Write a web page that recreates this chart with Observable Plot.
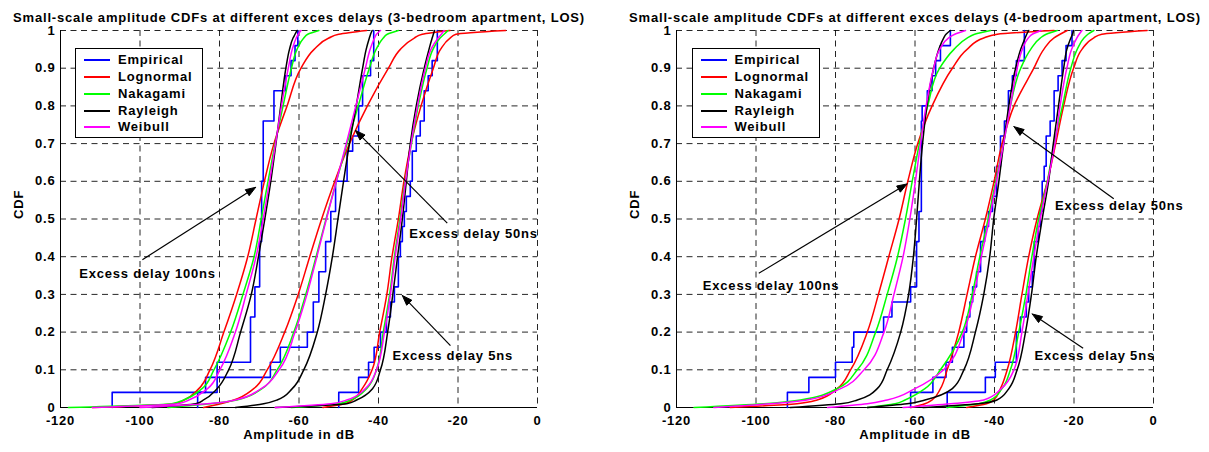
<!DOCTYPE html>
<html><head><meta charset="utf-8">
<script src="https://cdn.jsdelivr.net/npm/d3@7"></script>
<script src="https://cdn.jsdelivr.net/npm/@observablehq/plot@0.6"></script>
<style>
body{margin:0;background:#fff;font-family:"Liberation Sans",Arial,sans-serif;}
#wrap{position:relative;width:1209px;height:452px;display:flex;}
.panel{position:relative;}
.legend{position:absolute;border:1px solid #000;background:#fff;box-sizing:border-box;font-weight:bold;font-size:13px;letter-spacing:0.8px;}
.legend .row{position:absolute;left:0;height:16px;line-height:16px;white-space:nowrap;}
.legend .sw{position:absolute;top:7px;width:26px;height:2px;}
.legend .lab{position:absolute;}
</style></head><body><div id="wrap"></div>
<script>
// ---------- common ----------
const cdfLevels = [0, 0.01, 0.02, 0.05, 0.1, 0.2, 0.3, 0.4, 0.5, 0.6, 0.7, 0.8, 0.9, 0.95, 0.98, 0.99, 1];
const seriesNames = ["Empirical", "Lognormal", "Nakagami", "Rayleigh", "Weibull"];
const seriesColors = ["#0000ff", "#ff0000", "#00ff00", "#000000", "#ff00ff"];
const xTicks = [-120, -100, -80, -60, -40, -20, 0];
const yTicks = [0, 0.1, 0.2, 0.3, 0.4, 0.5, 0.6, 0.7, 0.8, 0.9, 1];
const titles = ["Small-scale amplitude CDFs at different exces delays (3-bedroom apartment, LOS)",
                "Small-scale amplitude CDFs at different exces delays (4-bedroom apartment, LOS)"];
const xLabel = "Amplitude in dB";
const yLabel = "CDF";

// ---------- 3-bedroom (left) : x (dB) at each cdfLevel ----------
const b3_100_logn = [-112, -91.4, -88.9, -85.2, -82.4, -78.9, -75.7, -72.9, -70.8, -68.7, -66.3, -63, -59.5, -56.2, -52.5, -50, -43];
const b3_100_naka = [-118, -92, -89, -84.4, -81.4, -77.2, -74.1, -71.3, -69.5, -67.8, -66, -64, -61.9, -60.5, -58.8, -57.8, -55];
const b3_100_rayl = [-97, -86, -84, -80.6, -77.7, -74.7, -72, -70.2, -68.6, -67.1, -65.8, -64.6, -63.3, -62.4, -61.5, -61, -60.5];
const b3_100_weib = [-112, -90.5, -87.7, -83, -79.9, -76, -73.3, -70.8, -69, -67.4, -65.9, -64.4, -62.7, -61.7, -60.7, -60.2, -59.5];
const b3_100_empX = [-107, -83.5, -80.6, -72.2, -71.1, -69.9, -69.4, -69.0, -66.3, -63.4, -62, -61, -60.3];
const b3_100_empP = [0.04, 0.08, 0.12, 0.24, 0.32, 0.44, 0.6, 0.76, 0.84, 0.88, 0.92, 0.96, 1];

const b3_50_logn = [-84, -79.7, -76.4, -71.4, -68, -63.6, -60.2, -57.3, -54.3, -51, -47.3, -42.8, -37.5, -34.5, -31, -29, -22];
const b3_50_naka = [-93, -82.3, -75.6, -69.3, -65.5, -61.3, -58.3, -55.7, -53.2, -50.6, -47.9, -45.1, -42.3, -40.6, -38.8, -37.8, -35];
const b3_50_rayl = [-76, -68.9, -65.5, -61.7, -58.8, -55.4, -53.3, -51.6, -50.2, -48.8, -47.3, -45.6, -44.0, -43.1, -42.3, -42, -41.6];
const b3_50_weib = [-100, -83, -76, -69.5, -65, -61, -58, -55.5, -53.1, -50.6, -48.1, -45.7, -43.3, -42.1, -41, -40.5, -39.5];
const b3_50_empX = [-85.5, -80.6, -67.2, -64.7, -57.9, -56.4, -55, -53.3, -52, -50.8, -47.9, -46.5, -45, -44, -42, -41.2];
const b3_50_empP = [0.04, 0.08, 0.12, 0.16, 0.2, 0.28, 0.36, 0.44, 0.52, 0.6, 0.68, 0.72, 0.8, 0.88, 0.92, 1];

const b3_5_logn = [-54, -48.5, -46.5, -44.1, -41.6, -39.7, -37.9, -36.6, -35, -33.6, -31.8, -29.3, -26.2, -24.4, -22, -20.5, -8];
const b3_5_naka = [-62, -50, -47, -43, -40.5, -38.8, -37.2, -36, -34.6, -33.3, -31.7, -30, -27.8, -26.3, -24.5, -23.5, -22.5];
const b3_5_rayl = [-66, -48, -45.5, -41.5, -39.5, -37.7, -36.4, -35.2, -34, -33, -32, -30.5, -28.5, -27.3, -26.5, -26.2, -25.9];
const b3_5_weib = [-66, -52, -48, -43.3, -40.5, -38.5, -37, -35.8, -34.4, -33.2, -31.8, -30.2, -28.2, -26.8, -25, -24.2, -23.5];
const b3_5_empX = [-50, -45, -42.5, -41.1, -39.5, -38, -37, -36, -35, -34.5, -34, -33.5, -33, -32, -31.5, -30.5, -29.5, -28.5, -27.5, -26.5, -25.2];
const b3_5_empP = [0.04, 0.08, 0.12, 0.16, 0.2, 0.24, 0.28, 0.32, 0.4, 0.44, 0.48, 0.52, 0.56, 0.6, 0.68, 0.72, 0.76, 0.84, 0.88, 0.92, 1];

// ---------- 4-bedroom (right) ----------
const b4_100_logn = [-106.5, -89.7, -84.6, -79.6, -76.2, -72, -69.2, -66.6, -64, -61.8, -59.3, -55.7, -50.6, -46.9, -42.7, -39.3, -25];
const b4_100_naka = [-115.6, -98, -88.8, -79.6, -74.5, -69.9, -67, -64.4, -62.4, -60.7, -58.9, -56.8, -53.8, -50.2, -46.9, -45, -41];
const b4_100_rayl = [-91.4, -78.7, -74.5, -69.5, -67, -63.6, -61.6, -60.4, -59.6, -58.9, -58.1, -57, -55.3, -54, -52.8, -52.2, -51.1];
const b4_100_weib = [-110.6, -96.4, -87.2, -78.7, -72.8, -67.8, -65.3, -63, -61.3, -59.9, -58.6, -57.2, -55.3, -53.8, -51.6, -50, -47.3];
const b4_100_empX = [-92.1, -86.7, -80, -75.8, -75.4, -67.9, -65.8, -61.1, -59.6, -59.0, -58.4, -58.2, -56.9, -55.7, -54.8, -53.6, -51.1];
const b4_100_empP = [0.04, 0.08, 0.12, 0.16, 0.2, 0.24, 0.28, 0.32, 0.44, 0.52, 0.76, 0.8, 0.84, 0.88, 0.92, 0.96, 1];

const b4_50_logn = [-61, -57.5, -55.7, -53.6, -51.9, -49, -46.9, -44.8, -42.3, -40.1, -38.1, -35.1, -30.1, -27.6, -25.1, -23.5, -21.7];
const b4_50_naka = [-72, -65, -62.5, -57.5, -53.6, -48.1, -45.6, -43.7, -41.6, -39.7, -37.7, -36, -33.4, -30.9, -28.5, -27, -24.2];
const b4_50_rayl = [-72, -62, -57.5, -50.6, -47.7, -44.8, -42.7, -41.2, -40.2, -38.9, -37.7, -36.4, -34.7, -33.4, -32.3, -31.9, -31.4];
const b4_50_weib = [-82, -72, -67, -60, -52.8, -47.7, -45.2, -43.3, -41.3, -39.5, -37.7, -36, -34.3, -33, -31.5, -30.5, -28.3];
const b4_50_empX = [-61.1, -55.5, -52.2, -50.6, -47.7, -47.0, -46.2, -45.5, -44.5, -43.5, -42.5, -41.5, -40.5, -39.5, -38.5, -37.5, -36.5, -35.5, -34.5, -32.5];
const b4_50_empP = [0.04, 0.08, 0.12, 0.16, 0.2, 0.24, 0.28, 0.32, 0.36, 0.44, 0.48, 0.52, 0.56, 0.64, 0.72, 0.76, 0.84, 0.88, 0.92, 1];

const b4_5_logn = [-47, -42, -40.2, -38.5, -36.8, -34.7, -33.1, -31.4, -29.3, -26.7, -24.6, -22.6, -20.1, -18, -15.1, -13, -1.6];
const b4_5_naka = [-52, -44, -41, -38.1, -36, -33.9, -32.1, -30.6, -28.9, -26.7, -25, -22.9, -20.8, -19.2, -17.5, -16.5, -15];
const b4_5_rayl = [-58, -44, -39.4, -36.4, -34.3, -32.2, -30.7, -29.5, -28, -26.4, -25.2, -23.9, -22.6, -21.8, -20.8, -20.4, -20.1];
const b4_5_weib = [-63, -51, -42.7, -38.3, -35.1, -33.1, -31.6, -30.1, -28.5, -26.6, -24.8, -23.5, -21.8, -20.6, -19.3, -18.7, -18];
const b4_5_empX = [-51.9, -42.3, -39.8, -34.5, -33.5, -32, -31.4, -30.5, -30, -29, -28.5, -28, -27.5, -27, -26, -25, -24, -23, -22, -20.5];
const b4_5_empP = [0.04, 0.08, 0.12, 0.2, 0.24, 0.28, 0.32, 0.36, 0.44, 0.48, 0.52, 0.6, 0.64, 0.72, 0.76, 0.84, 0.88, 0.92, 0.96, 1];

// ---------- annotations (text position, arrow tail, arrow head) ----------
const b3_notes = ["Excess delay 100ns", "Excess delay 50ns", "Excess delay 5ns"];
const b3_noteX = [-98.1, -16.1, -21.3];
const b3_noteY = [0.355, 0.461, 0.136];
const b3_arrowFrom = [[-99.4, 0.392], [-22.7, 0.489], [-21.9, 0.164]];
const b3_arrowTo = [[-70.9, 0.584], [-45.8, 0.735], [-34.0, 0.297]];
const b4_notes = ["Excess delay 100ns", "Excess delay 50ns", "Excess delay 5ns"];
const b4_noteX = [-96.2, -8.6, -14.8];
const b4_noteY = [0.324, 0.536, 0.136];
const b4_arrowFrom = [[-99.3, 0.356], [-10.0, 0.554], [-17.7, 0.157]];
const b4_arrowTo = [[-62.0, 0.593], [-35.1, 0.745], [-30.5, 0.248]];

// ---------- build ----------
const H = 452, MT = 30, MB = 45;
const fontCss = {fontFamily: "'Liberation Sans', Arial, sans-serif", fontSize: "13px", fontWeight: "bold", letterSpacing: "0.8px", overflow: "visible", background: "#fff"};

function makePanel(cfg) {
  const fits = [];
  const emp = [];
  cfg.groups.forEach((g, gi) => {
    emp.push({g: gi, x: g.empX[0], p: 0});
    g.empX.forEach((x, i) => emp.push({g: gi, x, p: g.empP[i]}));
  });
  for (let s = 0; s < 4; s++) {
    cfg.groups.forEach((g, gi) => {
      g.fits[s].forEach((x, i) => fits.push({k: seriesNames[s + 1] + gi, s: seriesNames[s + 1], x, p: cdfLevels[i]}));
    });
  }
  const W = cfg.width;
  const kx = (W - cfg.ml - cfg.mr) / 120, ky = (H - MT - MB);
  const notes = cfg.notes.map((t, i) => ({t, x: cfg.noteX[i], y: cfg.noteY[i],
    x1: cfg.from[i][0], y1: cfg.from[i][1], x2: cfg.to[i][0], y2: cfg.to[i][1]}));
  const heads = [];
  notes.forEach((n, i) => {
    const dx = (n.x2 - n.x1) * kx, dy = -(n.y2 - n.y1) * ky;
    const L = Math.hypot(dx, dy), ux = dx / L, uy = dy / L;
    const hl = 10, hw = 3.6;
    const bx = -ux * hl, by = -uy * hl;
    const pts = [[0, 0], [bx - uy * hw, by + ux * hw], [bx + uy * hw, by - ux * hw], [0, 0]];
    pts.forEach(([px, py]) => heads.push({id: i, x: n.x2 + px / kx, y: n.y2 - py / ky}));
  });
  const shafts = notes.map(n => {
    const dx = (n.x2 - n.x1) * kx, dy = -(n.y2 - n.y1) * ky;
    const L = Math.hypot(dx, dy);
    const f = (L - 8) / L;
    return {...n, x2: n.x1 + (n.x2 - n.x1) * f, y2: n.y1 + (n.y2 - n.y1) * f};
  });

  const svg = Plot.plot({
    width: W, height: H,
    marginLeft: cfg.ml, marginRight: cfg.mr, marginTop: MT, marginBottom: MB,
    style: fontCss,
    x: {domain: [-120, 0], label: null},
    y: {domain: [0, 1], label: null},
    color: {domain: seriesNames, range: seriesColors},
    marks: [
      Plot.gridX(xTicks, {stroke: "#000", strokeOpacity: 0.85, strokeDasharray: "6,4.5"}),
      Plot.gridY(yTicks, {stroke: "#000", strokeOpacity: 0.85, strokeDasharray: "6,4.5"}),
      Plot.ruleX([-120], {stroke: "#000", strokeWidth: 1}),
      Plot.ruleY([0], {stroke: "#000", strokeWidth: 1}),
      Plot.axisX(xTicks, {tickSize: 0, tickPadding: 8, tickFormat: d => String(d), label: null, fontSize: 13}),
      Plot.axisY(yTicks, {tickSize: 0, tickPadding: 5, tickFormat: d => (d === 0 || d === 1) ? String(d) : d.toFixed(1), label: null, fontSize: 13}),
      Plot.line(emp, {x: "x", y: "p", z: "g", curve: "step-after", stroke: seriesColors[0], strokeWidth: 1.6}),
      Plot.line(fits, {x: "x", y: "p", z: "k", stroke: "s", curve: "monotone-y", strokeWidth: 1.5}),
      Plot.link(shafts, {x1: "x1", y1: "y1", x2: "x2", y2: "y2", stroke: "#000", strokeWidth: 1.2}),
      Plot.line(heads, {x: "x", y: "y", z: "id", fill: "#000", stroke: "#000", strokeWidth: 1}),
      Plot.text(notes, {x: "x", y: "y", text: "t", fill: "#000"}),
      Plot.text([cfg.title], {frameAnchor: "top", dy: -18, fill: "#000", letterSpacing: "0.95px"}),
      Plot.text([xLabel], {frameAnchor: "bottom", dy: 31, fill: "#000"}),
      Plot.text([yLabel], {frameAnchor: "left", dx: -42, rotate: -90, fill: "#000"})
    ]
  });
  const div = document.createElement("div");
  div.className = "panel";
  div.style.width = W + "px";
  div.style.height = H + "px";
  div.appendChild(svg);
  const lg = document.createElement("div");
  lg.className = "legend";
  lg.style.left = cfg.legLeft + "px";
  lg.style.top = "48px";
  lg.style.width = "128px";
  lg.style.height = "90px";
  seriesNames.forEach((name, i) => {
    const row = document.createElement("div");
    row.className = "row";
    row.style.top = (3 + i * 16.85) + "px";
    row.innerHTML = `<span class="sw" style="left:8px;background:${seriesColors[i]}"></span><span class="lab" style="left:42px">${name}</span>`;
    lg.appendChild(row);
  });
  div.appendChild(lg);
  return div;
}

const wrap = document.getElementById("wrap");
wrap.appendChild(makePanel({
  width: 604, ml: 60, mr: 67, title: titles[0], legLeft: 75,
  groups: [
    {empX: b3_5_empX, empP: b3_5_empP, fits: [b3_5_logn, b3_5_naka, b3_5_rayl, b3_5_weib]},
    {empX: b3_50_empX, empP: b3_50_empP, fits: [b3_50_logn, b3_50_naka, b3_50_rayl, b3_50_weib]},
    {empX: b3_100_empX, empP: b3_100_empP, fits: [b3_100_logn, b3_100_naka, b3_100_rayl, b3_100_weib]}
  ],
  notes: b3_notes, noteX: b3_noteX, noteY: b3_noteY, from: b3_arrowFrom, to: b3_arrowTo
}));
wrap.appendChild(makePanel({
  width: 605, ml: 72, mr: 56, title: titles[1], legLeft: 87.5,
  groups: [
    {empX: b4_5_empX, empP: b4_5_empP, fits: [b4_5_logn, b4_5_naka, b4_5_rayl, b4_5_weib]},
    {empX: b4_50_empX, empP: b4_50_empP, fits: [b4_50_logn, b4_50_naka, b4_50_rayl, b4_50_weib]},
    {empX: b4_100_empX, empP: b4_100_empP, fits: [b4_100_logn, b4_100_naka, b4_100_rayl, b4_100_weib]}
  ],
  notes: b4_notes, noteX: b4_noteX, noteY: b4_noteY, from: b4_arrowFrom, to: b4_arrowTo
}));
</script></body></html>
